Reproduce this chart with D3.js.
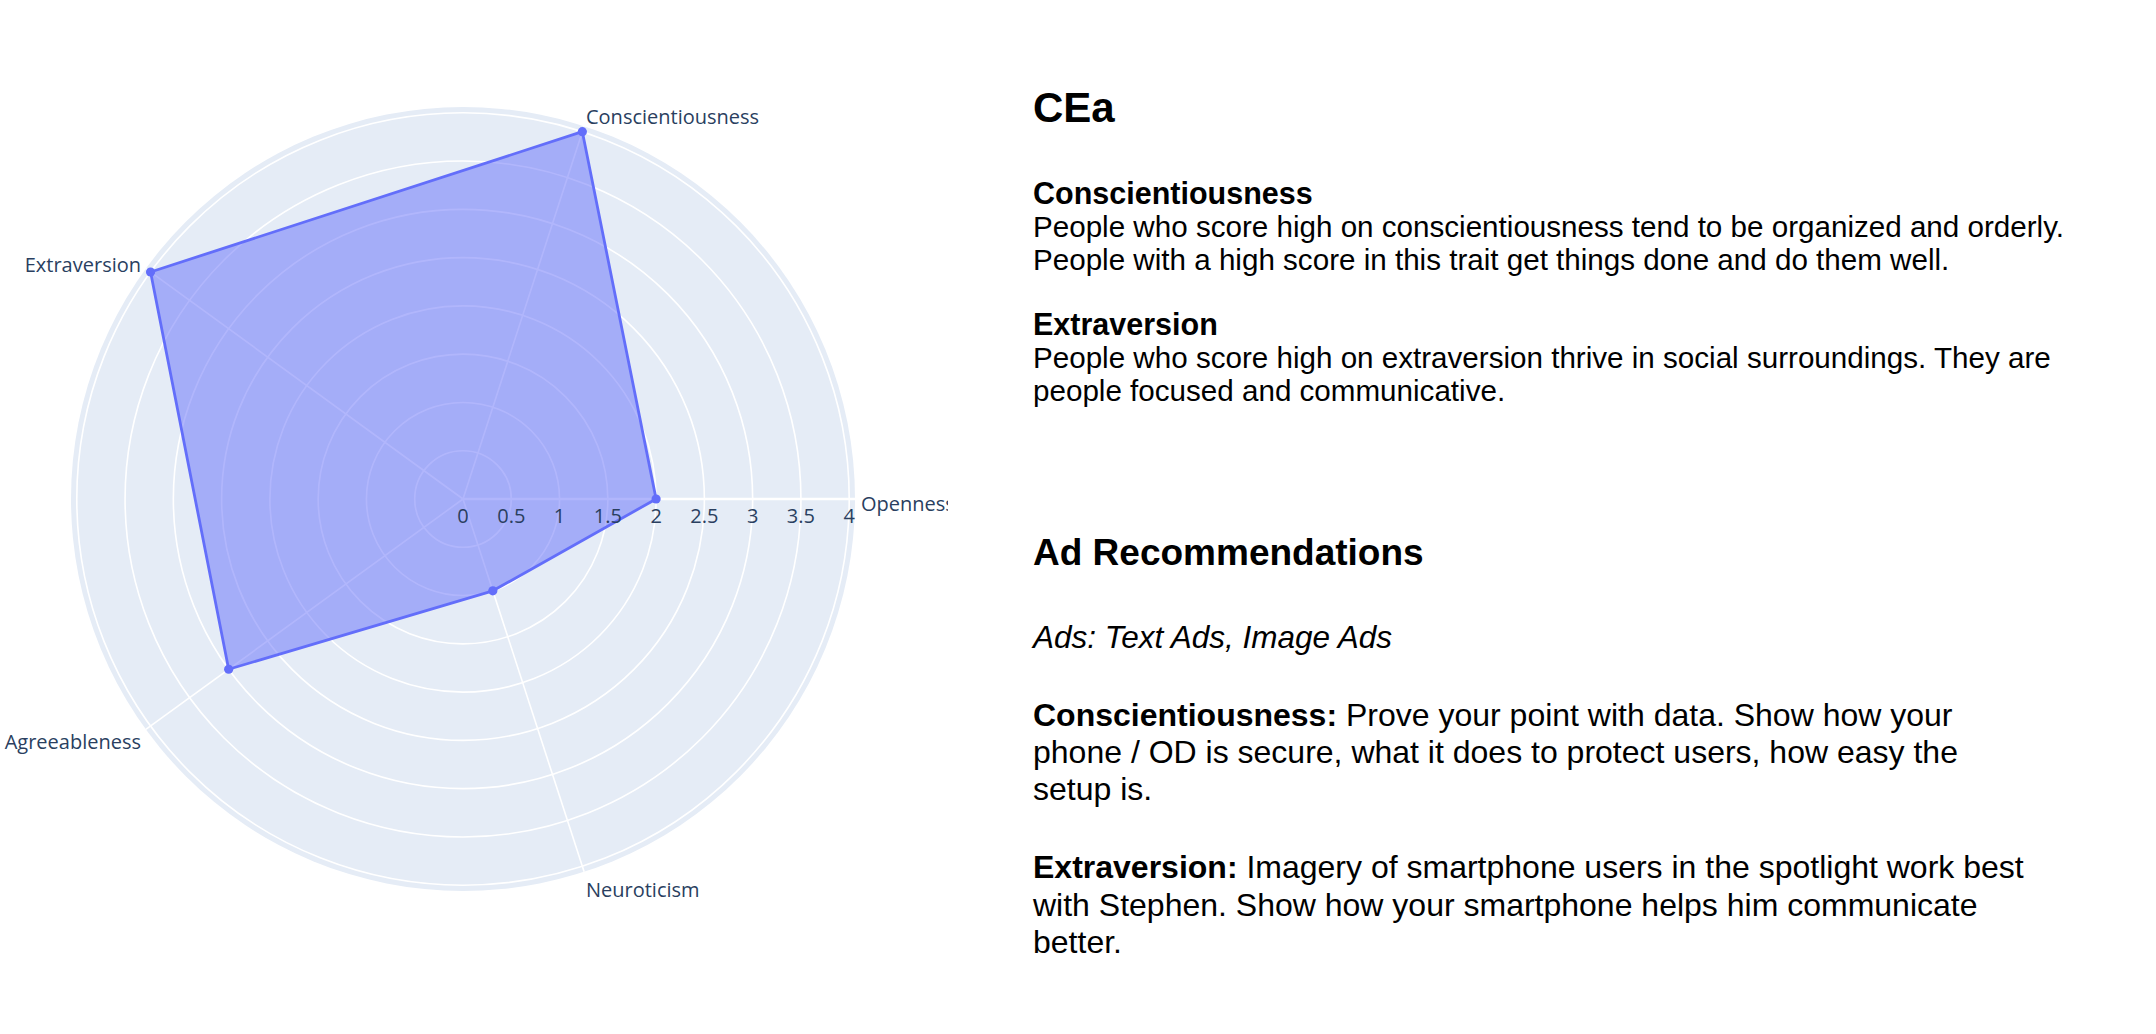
<!DOCTYPE html>
<html>
<head>
<meta charset="utf-8">
<script src="https://cdn.jsdelivr.net/npm/d3@7"></script>
<style>
  html, body { margin: 0; padding: 0; background: #ffffff; }
  svg { display: block; }
</style>
</head>
<body>
<svg id="chart" width="2156" height="1034"></svg>
<script>
// ---------- data ----------
const categories = ["Openness", "Conscientiousness", "Extraversion", "Agreeableness", "Neuroticism"];
const scores = [2, 4, 4, 3, 1];
const radialTicks = [0, 0.5, 1, 1.5, 2, 2.5, 3, 3.5, 4];
const radialTickLabels = ["0", "0.5", "1", "1.5", "2", "2.5", "3", "3.5", "4"];
const radialMax = 4.06;

const pageTitle = "CEa";
const traitHeadings = ["Conscientiousness", "Extraversion"];
const traitTexts = [
  ["People who score high on conscientiousness tend to be organized and orderly.",
   "People with a high score in this trait get things done and do them well."],
  ["People who score high on extraversion thrive in social surroundings. They are",
   "people focused and communicative."]
];
const adTitle = "Ad Recommendations";
const adTypes = "Ads: Text Ads, Image Ads";
const adLabels = ["Conscientiousness:", "Extraversion:"];
const adTexts = [
  [" Prove your point with data. Show how your",
   "phone / OD is secure, what it does to protect users, how easy the",
   "setup is."],
  [" Imagery of smartphone users in the spotlight work best",
   "with Stephen. Show how your smartphone helps him communicate",
   "better."]
];

// ---------- layout ----------
const svg = d3.select("#chart");
const cx = 463, cy = 499, R = 392;
const plotFont = "'Open Sans', verdana, arial, sans-serif";
const plotText = "#2a3f5f";

const r = d3.scaleLinear().domain([0, radialMax]).range([0, R]);
const ang = d3.scaleLinear().domain([0, categories.length]).range([0, 2 * Math.PI]);

svg.append("defs").append("clipPath").attr("id", "plotclip")
  .append("rect").attr("x", 0).attr("y", 0).attr("width", 948).attr("height", 1034);

const g = svg.append("g").attr("clip-path", "url(#plotclip)")
  .append("g").attr("transform", `translate(${cx},${cy})`);

const px = (v, i) => r(v) * Math.cos(ang(i));
const py = (v, i) => -r(v) * Math.sin(ang(i));

// background disk
g.append("circle").attr("r", r(radialMax)).attr("fill", "#E5ECF6");

// radial grid circles
g.selectAll("circle.grid").data(radialTicks.filter(t => t > 0)).join("circle")
  .attr("class", "grid")
  .attr("r", d => r(d))
  .attr("fill", "none").attr("stroke", "#ffffff").attr("stroke-width", 1.6);

// angular spokes
g.selectAll("line.spoke").data(categories).join("line")
  .attr("class", "spoke")
  .attr("x1", 0).attr("y1", 0)
  .attr("x2", (d, i) => px(radialMax, i)).attr("y2", (d, i) => py(radialMax, i))
  .attr("stroke", "#ffffff").attr("stroke-width", 1.6);

// radial axis line
g.append("line")
  .attr("x1", 0).attr("y1", 0).attr("x2", r(radialMax)).attr("y2", 0)
  .attr("stroke", "#ffffff").attr("stroke-width", 2.6);

// data polygon
const pts = scores.map((v, i) => [px(v, i), py(v, i)]);
g.append("path")
  .attr("d", d3.line().curve(d3.curveLinearClosed)(pts))
  .attr("fill", "#636efa").attr("fill-opacity", 0.5)
  .attr("stroke", "#636efa").attr("stroke-width", 2.8).attr("stroke-linejoin", "round");

g.selectAll("circle.pt").data(scores).join("circle")
  .attr("class", "pt")
  .attr("cx", (d, i) => px(d, i)).attr("cy", (d, i) => py(d, i))
  .attr("r", 4.6).attr("fill", "#636efa");

// radial tick labels
g.selectAll("text.rtick").data(radialTicks).join("text")
  .attr("class", "rtick")
  .attr("x", d => r(d)).attr("y", 24)
  .attr("text-anchor", "middle")
  .attr("font-family", plotFont).attr("font-size", 20).attr("fill", plotText)
  .text((d, i) => radialTickLabels[i]);

// angular labels
const RL = R + 6;
g.selectAll("text.alabel").data(categories).join("text")
  .attr("class", "alabel")
  .attr("x", (d, i) => RL * Math.cos(ang(i)))
  .attr("y", (d, i) => -RL * Math.sin(ang(i)) - 8 * Math.sin(ang(i)) + 4)
  .attr("dominant-baseline", "central")
  .attr("text-anchor", (d, i) => {
    const c = Math.cos(ang(i));
    return c > 0.1 ? "start" : (c < -0.1 ? "end" : "middle");
  })
  .attr("font-family", plotFont).attr("font-size", 20).attr("fill", plotText)
  .text(d => d);

// ---------- right-hand text ----------
const tx = 1033;
const textFont = "'Liberation Sans', Arial, Helvetica, sans-serif";
const tg = svg.append("g").attr("font-family", textFont).attr("fill", "#000000");

tg.append("text").attr("x", tx).attr("y", 122)
  .attr("font-size", 42).attr("font-weight", "bold").text(pageTitle);

const headY = [204, 335];
const bodyY = [[237, 270], [368, 401]];
traitHeadings.forEach((h, k) => {
  tg.append("text").attr("x", tx).attr("y", headY[k])
    .attr("font-size", 30.5).attr("font-weight", "bold").text(h);
  traitTexts[k].forEach((line, j) => {
    tg.append("text").attr("x", tx).attr("y", bodyY[k][j])
      .attr("font-size", 29.6).text(line);
  });
});

tg.append("text").attr("x", tx).attr("y", 565)
  .attr("font-size", 37).attr("font-weight", "bold").text(adTitle);

tg.append("text").attr("x", tx).attr("y", 648)
  .attr("font-size", 31.5).attr("font-style", "italic").text(adTypes);

const adY = [[726, 763, 800], [878, 916, 953]];
adLabels.forEach((lab, k) => {
  adTexts[k].forEach((line, j) => {
    const t = tg.append("text").attr("x", tx).attr("y", adY[k][j]).attr("font-size", 32);
    if (j === 0) {
      t.append("tspan").attr("font-weight", "bold").text(lab);
      t.append("tspan").attr("xml:space", "preserve").style("white-space", "pre").text(line);
    } else {
      t.text(line);
    }
  });
});
</script>
</body>
</html>
